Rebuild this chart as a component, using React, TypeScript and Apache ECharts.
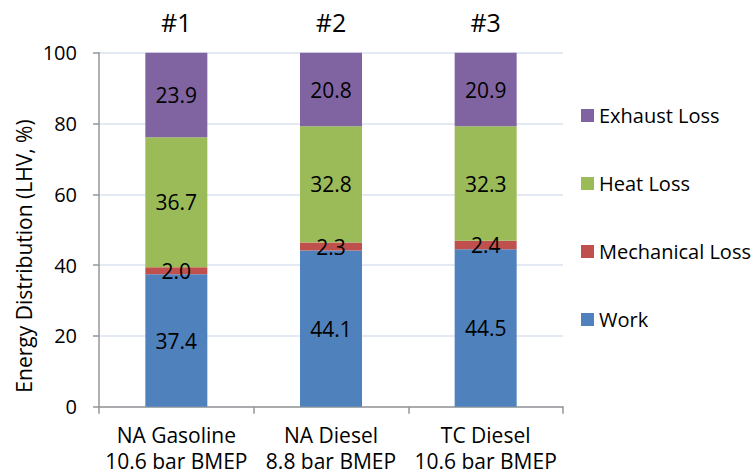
import React, { useEffect, useRef } from "react";
import * as echarts from "echarts";

const categories = ["NA Gasoline\n10.6 bar BMEP", "NA Diesel\n8.8 bar BMEP", "TC Diesel\n10.6 bar BMEP"];
const topLabels = ["#1", "#2", "#3"];
const work = [37.4, 44.1, 44.5];
const mechanicalLoss = [2.0, 2.3, 2.4];
const heatLoss = [36.7, 32.8, 32.3];
const exhaustLoss = [23.9, 20.8, 20.9];
const yTicks = [0, 20, 40, 60, 80, 100];
const yTitle = "Energy Distribution (LHV, %)";

const FONT = "'Open Sans', sans-serif";

export default function App() {
  const ref = useRef<HTMLDivElement>(null);
  useEffect(() => {
    if (!ref.current) return;
    const chart = echarts.init(ref.current, undefined, { renderer: "svg" });
    const label = {
      show: true,
      position: "inside",
      color: "#000",
      fontSize: 21,
      fontFamily: FONT,
      formatter: (p: any) => Number(p.value).toFixed(1),
    };
    const mk = (name: string, data: number[], color: string) => ({
      name,
      type: "bar",
      stack: "total",
      data,
      barWidth: 62,
      itemStyle: { color },
      label,
    });
    chart.setOption({
      animation: false,
      textStyle: { fontFamily: FONT },
      grid: { left: 99, right: 193, top: 52.7, bottom: 67.3, outerBoundsMode: "none", containLabel: false },
      legend: {
        orient: "vertical",
        left: 576,
        top: 99,
        itemWidth: 13,
        itemHeight: 13,
        itemGap: 45,
        icon: "rect",
        data: ["Exhaust Loss", "Heat Loss", "Mechanical Loss", "Work"],
        textStyle: { fontSize: 20, color: "#000", fontFamily: FONT, lineHeight: 23 },
      },
      graphic: [
        {
          type: "text",
          x: 24,
          y: 256,
          rotation: Math.PI / 2,
          style: {
            text: yTitle,
            fill: "#000",
            fontSize: 21,
            fontFamily: FONT,
            align: "center",
            verticalAlign: "middle",
          },
        },
      ],
      xAxis: [
        {
          type: "category",
          data: categories,
          axisLine: { lineStyle: { color: "#969696", width: 1.5 } },
          axisTick: { show: true, length: 7, lineStyle: { color: "#969696", width: 1.5 } },
          axisLabel: { color: "#000", fontSize: 21, lineHeight: 26, margin: 15, interval: 0, fontFamily: FONT },
        },
        {
          type: "category",
          position: "top",
          data: topLabels,
          axisLine: { show: false },
          axisTick: { show: false },
          axisLabel: { color: "#000", fontSize: 25, margin: 18, interval: 0, fontFamily: FONT },
        },
      ],
      yAxis: {
        type: "value",
        min: 0,
        max: 100,
        interval: 20,
        axisLine: { show: true, lineStyle: { color: "#969696", width: 1.5 } },
        axisTick: { show: true, length: 6, lineStyle: { color: "#969696", width: 1.5 } },
        axisLabel: {
          color: "#000",
          fontSize: 20,
          margin: 22,
          fontFamily: FONT,
          formatter: (v: number) => (yTicks.includes(v) ? String(v) : ""),
        },
        splitLine: { lineStyle: { color: "#dbe3f0", width: 1.5 } },
      },
      series: [
        mk("Work", work, "#4f81bd"),
        mk("Mechanical Loss", mechanicalLoss, "#c0504d"),
        mk("Heat Loss", heatLoss, "#9bbb59"),
        mk("Exhaust Loss", exhaustLoss, "#8064a2"),
      ],
    });
    return () => chart.dispose();
  }, []);
  return <div ref={ref} style={{ width: 756, height: 474, position: "absolute", left: 0, top: 0 }} />;
}
